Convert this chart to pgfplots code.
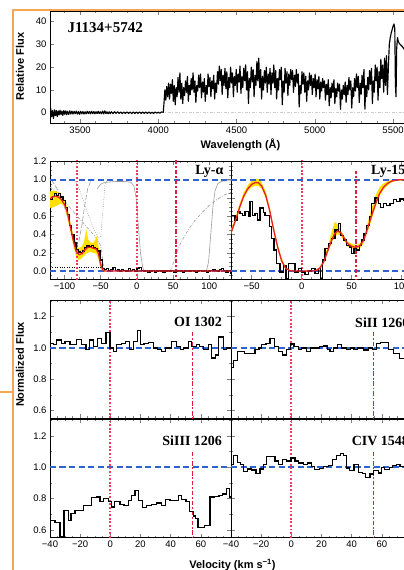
\documentclass[border=0pt]{standalone}
\usepackage{pgfplots}
\pgfplotsset{compat=1.18}
\usepackage{fontspec}
\setmainfont{Liberation Sans}
\newfontfamily\tnr{Liberation Serif}
\definecolor{orng}{HTML}{F6A556}
\definecolor{bdash}{HTML}{2E62D0}
\definecolor{rdot}{HTML}{F03C5C}
\definecolor{rddc}{HTML}{E01E3C}
\definecolor{model}{HTML}{E8202A}
\definecolor{band}{HTML}{FFE000}
\definecolor{gcurve}{HTML}{9C9C9C}
\pgfplotsset{
  base/.style={scale only axis, anchor=south west, clip=true,
    axis line style={line width=0.9pt},
    tick style={line width=0.6pt},
    major tick length=4pt, minor tick length=2pt, tick align=inside,
    tick label style={font=\fontsize{9.5}{10}\selectfont},
    /pgf/number format/assume math mode=true},
  mid/.style={base, width=181pt, height=118.3pt, ymin=-0.09, ymax=1.205,
    ytick={0,0.2,0.4,0.6,0.8,1.0,1.2}, minor ytick={-0.05,0,0.05,...,1.21}},
  vel/.style={base, width=181pt, height=118.3pt, xmin=-40, xmax=80, ymin=0.551, ymax=1.306,
    xtick={-40,-20,0,20,40,60,80}, minor xtick={-40,-35,...,80},
    ytick={0.6,0.8,1.0,1.2}, minor ytick={0.6,0.7,0.8,0.9,1.0,1.1,1.2,1.3}},
  hist/.style={draw=black, line width=1.25pt, const plot, line join=miter},
  bluedash/.style={draw=bdash, line width=2pt, dash pattern=on 6pt off 3.5pt},
  reddot/.style={draw=rdot, line width=1.8pt, dash pattern=on 1.8pt off 1.8pt},
  reddashdot/.style={draw=rddc, line width=1.8pt, dash pattern=on 4.5pt off 1.8pt on 1.8pt off 1.8pt},
}
\begin{document}
\begin{tikzpicture}
\useasboundingbox (0pt,0pt) rectangle (404pt,570pt);
\clip (0pt,0pt) rectangle (404pt,570pt);

% ---------------- top spectrum
\begin{axis}[base, at={(50pt,447pt)}, width=362pt, height=112pt,
  xmin=3308, xmax=5621, ymin=-4.53, ymax=44.7,
  xtick={3500,4000,4500,5000,5500}, xticklabels={3500,4000,4500,5000,5500},
  minor xtick={3400,3500,...,5600},
  ytick={0,10,20,30,40}, yticklabels={0,10,20,30,40}]
\addplot[draw=gray!40, line width=0.8pt, dash pattern=on 3pt off 1.5pt on 1pt off 1.5pt] coordinates {(3300,0) (5700,0)};
\addplot[draw=black, line width=1.15pt, line join=round] coordinates {
(3300,1.8) (3306,-2.8) (3312,2.0) (3318,-1.8) (3324,0.9) (3330,-2.5) (3336,1.2) (3342,-1.3) (3348,1.0) (3354,-1.7)
(3360,0.8) (3366,-1.0) (3372,1.1) (3378,-0.8) (3384,0.7) (3390,-1.2) (3396,0.9) (3402,-0.7) (3408,0.8) (3414,-0.9)
(3420,0.6) (3427,-0.8) (3434,0.8) (3441,-0.6) (3448,0.7) (3455,-0.6) (3462,0.6) (3469,-0.5) (3476,0.7) (3483,-0.6)
(3490,0.5) (3497,-0.7) (3504,0.6) (3511,-0.5) (3518,0.5) (3525,-0.6) (3532,0.4) (3539,-0.5) (3546,0.6) (3553,-0.4)
(3560,0.5) (3567,-0.5) (3574,0.6) (3581,-0.4) (3588,0.5) (3595,-0.5) (3602,0.4) (3609,-0.4) (3616,0.6) (3623,-0.4)
(3630,0.4) (3637,-0.5) (3644,0.7) (3651,-0.5) (3658,0.8) (3665,-0.4) (3672,0.4) (3679,-0.5) (3686,0.4) (3693,-0.4)
(3700,0.4) (3710,-0.4) (3720,0.4) (3730,-0.3) (3740,0.4) (3750,-0.3) (3760,0.3) (3770,-0.4) (3780,0.3) (3790,-0.3)
(3800,0.3) (3810,-0.3) (3820,0.3) (3830,-0.4) (3840,0.3) (3850,-0.3) (3860,0.3) (3870,-0.3) (3880,0.3) (3890,-0.3)
(3900,0.3) (3910,-0.3) (3920,0.3) (3930,-0.3) (3940,0.3) (3950,-0.3) (3960,0.2) (3970,-0.3) (3980,0.3) (3990,-0.2)
(4000,0.2) (4010,-0.2) (4020,0.3) (4032,0.2) (4036,4.0) (4042,10.0) (4048,5.5) (4054,11.5) (4060,7.0) (4066,13.0) (4072,6.0) (4078,12.5) (4084,8.5)
(4090,14.5) (4096,5.0) (4102,12.0) (4108,3.5) (4114,11.0) (4120,7.0) (4126,15.5) (4132,9.0) (4138,17.5) (4144,6.0)
(4150,13.0) (4156,4.0) (4162,11.0) (4168,7.5) (4174,14.0) (4180,9.0) (4186,16.0) (4192,5.0) (4198,12.0) (4204,8.0)
(4210,15.0) (4216,10.0) (4222,17.5) (4228,9.0) (4234,14.0) (4240,4.5) (4246,12.0) (4252,9.5) (4258,16.5) (4264,11.0)
(4270,17.0) (4276,6.5) (4282,13.5) (4288,9.0) (4294,15.0) (4300,5.0) (4306,12.0) (4312,8.0) (4318,17.0) (4324,11.5)
(4330,15.5) (4336,7.0) (4342,14.0) (4348,10.5) (4354,16.5) (4360,6.0) (4366,13.0) (4372,9.0) (4378,18.0) (4384,12.5)
(4390,20.5) (4396,14.0) (4402,19.0) (4408,8.0) (4414,16.5) (4420,12.0) (4426,19.5) (4432,10.5) (4438,18.0) (4444,6.5)
(4450,15.5) (4456,11.0) (4462,20.0) (4468,13.0) (4474,17.5) (4480,7.0) (4486,16.0) (4492,12.0) (4498,19.0) (4504,9.0)
(4510,17.0) (4516,13.5) (4522,20.5) (4528,8.5) (4534,16.0) (4540,11.0) (4546,19.5) (4552,14.0) (4558,21.0) (4564,10.0)
(4570,18.0) (4576,4.0) (4582,15.0) (4588,11.0) (4594,20.0) (4600,13.5) (4606,19.0) (4612,7.0) (4618,16.5) (4624,12.0)
(4630,22.5) (4636,14.0) (4642,24.0) (4648,11.0) (4654,19.0) (4660,6.0) (4666,16.0) (4672,10.0) (4678,18.5) (4684,13.0)
(4690,20.0) (4696,9.0) (4702,17.0) (4708,12.5) (4714,19.5) (4720,8.0) (4726,17.5) (4732,13.0) (4738,21.0) (4744,11.0)
(4750,18.5) (4756,6.0) (4762,15.0) (4768,10.0) (4774,19.0) (4780,14.5) (4786,20.0) (4792,3.5) (4798,14.0) (4804,9.0)
(4810,19.5) (4816,13.0) (4822,18.0) (4828,7.5) (4834,17.0) (4840,12.0) (4846,19.0) (4852,14.5) (4858,18.5) (4864,9.0)
(4870,16.5) (4876,11.5) (4882,19.0) (4888,13.0) (4894,17.0) (4900,2.5) (4906,12.0) (4912,8.5) (4918,18.0) (4924,12.5)
(4930,17.5) (4936,9.0) (4942,16.0) (4948,5.0) (4954,14.0) (4960,10.0) (4966,17.5) (4972,12.0) (4978,16.5) (4984,8.0)
(4990,15.0) (4996,11.0) (5002,17.0) (5008,7.0) (5014,14.5) (5020,10.5) (5026,16.0) (5032,6.0) (5038,13.5) (5044,9.5)
(5050,15.0) (5056,11.0) (5062,14.0) (5068,5.5) (5074,12.5) (5080,8.0) (5086,14.5) (5092,3.0) (5098,11.0) (5104,6.5)
(5110,13.0) (5116,9.0) (5122,14.5) (5128,4.0) (5134,10.5) (5140,7.0) (5146,13.0) (5152,9.5) (5158,12.5) (5164,1.5)
(5170,10.0) (5176,6.0) (5182,12.0) (5188,8.0) (5194,13.5) (5200,4.5) (5206,12.0) (5212,8.0) (5218,15.5) (5224,10.0)
(5230,14.0) (5236,2.0) (5242,11.0) (5248,7.0) (5254,15.0) (5260,9.5) (5266,17.0) (5272,11.0) (5278,16.0) (5284,4.5)
(5290,13.0) (5296,8.0) (5302,16.5) (5308,11.0) (5314,19.0) (5320,1.5) (5326,12.0) (5332,7.0) (5338,15.5) (5344,10.0)
(5350,18.5) (5356,12.5) (5362,19.5) (5368,4.0) (5374,14.0) (5380,9.0) (5386,21.0) (5392,14.0) (5398,20.0) (5404,5.5)
(5410,18.0) (5416,11.0) (5422,23.5) (5428,15.0) (5434,21.0) (5440,9.0) (5446,24.0) (5452,12.0) (5458,25.0) (5464,8.0)
(5470,20.0) (5476,30.0) (5482,33.0) (5488,35.0) (5494,36.5) (5500,38.0) (5506,39.0) (5511,37.0) (5515,12.0) (5519,7.0)
(5523,28.0) (5528,33.0) (5535,31.0) (5545,30.0) (5560,29.0) (5580,27.0) (5600,26.0) (5620,25.0)};
\end{axis}

% ---------------- Ly-alpha
\begin{axis}[mid, at={(50pt,290.7pt)}, xmin=-120, xmax=130,
  xtick={-100,-50,0,50,100}, xticklabels={−100,−50,0,50,100},
  minor xtick={-120,-110,...,130},
  yticklabels={0.0,0.2,0.4,0.6,0.8,1.0,1.2}]
\addplot[draw=gcurve, line width=0.6pt, dash pattern=on 5pt off 2pt] coordinates {(-118,1.0) (-110,0.9) (-100,0.7) (-92,0.5) (-86,0.34) (-83,0.27) (-80,0.33) (-76,0.5) (-72,0.72) (-68,0.9) (-64,0.98) (-58,1.0)};
\addplot[draw=gcurve, line width=0.6pt, dash pattern=on 0.8pt off 1.5pt] coordinates {(-88,1.0) (-82,0.95) (-76,0.82) (-70,0.68) (-64,0.55) (-58,0.44) (-53,0.36) (-50,0.38) (-47,0.65) (-44,0.95) (-41,1.0)};
\addplot[draw=gcurve, line width=0.6pt, dash pattern=on 3pt off 1.5pt on 0.8pt off 1.5pt] coordinates {(-120,0.92) (-110,0.86) (-100,0.77) (-90,0.67) (-80,0.58) (-70,0.49) (-60,0.4) (-55,0.35) (-50,0.28) (-47,0.1) (-45,0)};
\addplot[draw=gcurve, line width=0.6pt, dash pattern=on 3pt off 1.5pt on 0.8pt off 1.5pt] coordinates {(46,0) (50,0.08) (55,0.2) (60,0.3) (70,0.44) (80,0.55) (90,0.64) (100,0.72) (110,0.78) (120,0.83) (130,0.86)};
\addplot[draw=gcurve, line width=0.6pt] coordinates {(-55,0.9) (-50,0.95) (-45,0.97) (-30,0.98) (-15,0.98) (-8,0.97) (-4,0.93) (-1,0.8) (2,0.5) (5,0.2) (8,0.04) (10,0) (96,0) (99,0.1) (102,0.4) (105,0.7) (108,0.88) (112,0.96) (118,0.985) (130,0.99)};
\addplot[fill=band, draw=none] coordinates {(-121,0.87) (-115,0.88) (-110,0.87) (-105,0.84) (-100,0.78) (-96,0.69) (-92,0.54) (-88,0.40) (-84,0.29) (-80,0.25) (-76,0.27) (-73,0.32) (-70,0.46) (-67,0.34) (-63,0.31) (-60,0.31) (-57,0.35) (-55,0.39) (-53,0.27) (-50,0.12) (-47,0.04) (-44,0.015)
 (-44,-0.01) (-47,-0.005) (-50,0.03) (-53,0.13) (-56,0.19) (-60,0.2) (-65,0.21) (-70,0.19) (-75,0.15) (-80,0.12) (-84,0.16) (-88,0.29) (-92,0.44) (-96,0.59) (-100,0.71) (-105,0.74) (-110,0.72) (-115,0.7) (-121,0.69)} -- cycle;
\addplot[draw=black, line width=0.9pt, dash pattern=on 0.9pt off 1.5pt] coordinates {(-120,0.037) (-50,0.037)};
\addplot[bluedash] coordinates {(-120,1) (130,1)};
\addplot[bluedash] coordinates {(-120,0) (130,0)};
\addplot[reddot] coordinates {(-83,-1) (-83,2)};
\addplot[reddot] coordinates {(0,-1) (0,2)};
\addplot[reddashdot] coordinates {(54,-1) (54,2)};
\addplot[hist] coordinates {(-120,0.78) (-117,0.82) (-114,0.85) (-111,0.83) (-108,0.85) (-105,0.81) (-102,0.77) (-99,0.70) (-96,0.62) (-93,0.50) (-90,0.40) (-87,0.31) (-84,0.24) (-81,0.21) (-78,0.20) (-75,0.22) (-72,0.26) (-69,0.28) (-66,0.27) (-63,0.28) (-60,0.26) (-57,0.25) (-54,0.22) (-51,0.12) (-48,0.03) (-45,0.02) (-42,0.03) (-39,0.01) (-36,0.02) (-33,0.04) (-30,0.01) (-27,0.02) (-24,0.0) (-21,0.02) (-18,0.01) (-15,0.0) (-12,0.03) (-9,0.01) (-6,0.02) (-3,0.0) (0,0.03) (3,0.04) (6,0.01) (9,0.0) (12,0.01) (15,-0.01) (18,0.0) (21,0.01) (24,-0.01) (27,0.0) (30,0.01) (33,0.0) (36,-0.01) (39,0.0) (42,0.01) (45,0.0) (48,0.01) (51,-0.01) (54,0.0) (57,0.01) (60,0.0) (63,-0.01) (66,0.0) (69,0.01) (72,0.0) (75,0.01) (78,0.0) (81,-0.01) (84,0.0) (87,0.01) (90,0.0) (93,0.01) (96,-0.01) (99,0.0) (102,0.01) (105,0.02) (108,0.01) (111,0.0) (114,0.02) (117,0.03) (120,0.01) (123,-0.01) (126,0.01) (129,-0.02) (131,-0.02)};
\addplot[draw=model, line width=1.3pt] coordinates {(-120,0.79) (-117,0.81) (-113,0.82) (-108,0.81) (-104,0.78) (-100,0.73) (-96,0.64) (-92,0.49) (-88,0.34) (-84,0.22) (-80,0.18) (-76,0.19) (-72,0.23) (-68,0.26) (-64,0.26) (-60,0.25) (-56,0.24) (-53,0.19) (-50,0.07) (-47,0.01) (-44,0.0) (130,0.0)};
\end{axis}

% ---------------- Ly-15
\begin{axis}[mid, at={(231pt,290.7pt)}, xmin=-70.7, xmax=110.3,
  xtick={-50,0,50,100}, xticklabels={−50,0,50,100},
  minor xtick={-70,-60,...,110}, yticklabels={}]
\addplot[fill=band, draw=none] coordinates {(-71,0.45) (-66,0.59) (-62,0.74) (-58,0.86) (-54,0.94) (-50,0.99) (-46,1.01) (-43,1.005) (-40,0.97) (-36,0.87) (-32,0.70) (-28,0.48) (-24,0.29) (-20,0.14) (-16,0.045) (-12,0.012) (-8,0.006) (10,0.006) (14,0.012) (18,0.045) (22,0.13) (26,0.27) (30,0.43) (33,0.54) (36,0.51) (39,0.45) (42,0.39) (46,0.32) (50,0.3) (54,0.285) (58,0.3) (62,0.37) (66,0.53) (70,0.69) (74,0.83) (78,0.92) (82,0.96) (86,0.985) (90,0.997) (95,1.004) (112,1.004)
 (112,0.996) (95,0.988) (90,0.972) (86,0.94) (82,0.895) (78,0.825) (74,0.71) (70,0.57) (66,0.43) (62,0.305) (58,0.25) (54,0.24) (50,0.25) (46,0.265) (42,0.335) (39,0.385) (36,0.405) (33,0.375) (30,0.315) (26,0.195) (22,0.085) (18,0.018) (14,-0.002) (10,-0.006) (-8,-0.006) (-12,-0.002) (-16,0.018) (-20,0.09) (-24,0.235) (-28,0.425) (-32,0.635) (-36,0.8) (-40,0.9) (-43,0.93) (-46,0.935) (-50,0.92) (-54,0.875) (-58,0.795) (-62,0.675) (-66,0.535) (-71,0.39)} -- cycle;
\addplot[bluedash] coordinates {(-71,1) (111,1)};
\addplot[bluedash] coordinates {(-71,0) (111,0)};
\addplot[reddot] coordinates {(0,-1) (0,2)};
\addplot[reddashdot] coordinates {(54,-1) (54,1.09)};
\addplot[hist] coordinates {(-71,0.61) (-66.7,0.56) (-64.3,0.65) (-61.7,0.63) (-59,0.61) (-56.7,0.65) (-53.3,0.6) (-51.7,0.76) (-49.3,0.61) (-46.7,0.63) (-44.3,0.56) (-41.7,0.69) (-38.3,0.64) (-36.7,0.61) (-35,0.61) (-32.3,0.49) (-30,0.36) (-27.7,0.23) (-25,0.08) (-21.7,-0.01) (-18.3,0.06) (-15.7,-0.085) (-13.3,0.08) (-9,0.08) (-6.7,-0.01) (-3.3,0.03) (0,-0.01) (3.3,-0.04) (6.7,0.0) (10,0.03) (13.3,-0.03) (16.7,0.03) (19,-0.085) (21,0.12) (23.3,0.25) (26.7,0.3) (30,0.36) (33.3,0.45) (36.7,0.52) (39,0.39) (41.7,0.34) (45,0.28) (48.3,0.26) (50,0.19) (52.3,0.25) (55,0.23) (57.7,0.28) (60,0.34) (62.3,0.41) (65,0.5) (67.7,0.6) (70,0.74) (73.3,0.8) (76.7,0.74) (79,0.7) (81.7,0.74) (85,0.72) (88.3,0.74) (91.7,0.78) (95,0.76) (98.3,0.79) (102,0.77) (106,0.8) (111,0.8)};
\addplot[draw=model, line width=1.3pt] coordinates {(-71,0.41) (-66,0.56) (-62,0.70) (-58,0.82) (-54,0.90) (-50,0.95) (-46,0.97) (-43,0.965) (-40,0.93) (-36,0.83) (-32,0.66) (-28,0.45) (-24,0.26) (-20,0.11) (-16,0.03) (-12,0.005) (-8,0) (10,0) (14,0.005) (18,0.03) (22,0.10) (26,0.22) (30,0.34) (33,0.41) (36,0.44) (39,0.42) (42,0.37) (46,0.3) (50,0.27) (54,0.26) (58,0.275) (62,0.34) (66,0.47) (70,0.61) (74,0.74) (78,0.85) (82,0.92) (86,0.96) (90,0.985) (95,0.997) (100,1.0) (111,1.0)};
\end{axis}

% ---------------- OI 1302
\begin{axis}[vel, at={(50pt,151.7pt)}, xticklabels={}, yticklabels={0.6,0.8,1.0,1.2}]
\addplot[bluedash] coordinates {(-40,1) (80,1)};
\addplot[reddot] coordinates {(0,0) (0,2)};
\addplot[reddashdot] coordinates {(54.5,0) (54.5,1.1)};
\addplot[hist] coordinates {(-40,1.03) (-37.8,1.02) (-35.6,1.05) (-32.3,1.03) (-30.1,1.04) (-26.8,1.02) (-22.3,1.055) (-19.0,1.02) (-16.2,0.99) (-14.0,1.05) (-11.3,1.01) (-8.4,1.06) (-5.8,1.03) (-2.9,1.10) (-0.3,1.0) (1.9,0.975) (4.2,1.02) (7.5,1.03) (10.3,1.04) (12.5,0.99) (15.2,1.04) (17.8,1.11) (20.0,1.02) (22.3,1.03) (25.3,1.035) (28.4,1.0) (31.1,0.99) (34.0,0.975) (36.8,1.0) (40.6,1.04) (43.9,1.01) (46.5,0.99) (48.7,1.0) (51.6,1.04) (53.8,1.01) (57.1,1.02) (59.3,1.01) (62.0,0.99) (64.9,1.02) (67.1,0.935) (69.9,0.955) (71.9,1.07) (74.8,0.99) (77.0,1.0) (80,1.0)};
\end{axis}

% ---------------- SiII 1260
\begin{axis}[vel, at={(231pt,151.7pt)}, xticklabels={}, yticklabels={}]
\addplot[bluedash] coordinates {(-40,1) (80,1)};
\addplot[reddot] coordinates {(0,0) (0,2)};
\addplot[reddashdot] coordinates {(54.5,0) (54.5,1.1)};
\addplot[hist] coordinates {(-40,0.877) (-38.5,0.92) (-35.8,0.975) (-31,0.965) (-24.1,0.99) (-21.5,1.0) (-19.7,1.02) (-16.8,1.03) (-14.2,1.06) (-11.3,1.01) (-8.7,0.977) (-5.8,0.955) (-3.1,0.99) (-0.5,1.025) (1.7,1.01) (4.6,0.99) (6.8,1.0) (10.1,0.977) (12.8,1.0) (15.6,1.0) (18.5,1.01) (21.1,1.013) (23.8,0.99) (25.6,0.977) (27.8,1.0) (30.4,1.02) (33.3,1.0) (36.6,0.99) (39.2,1.0) (41.5,0.99) (43.7,1.0) (47.6,0.987) (51.0,1.0) (53.8,0.99) (56.5,1.03) (59.3,1.036) (64.2,0.99) (67.5,0.966) (71.9,0.934) (80,0.934)};
\end{axis}

% ---------------- SiIII 1206
\begin{axis}[vel, at={(50pt,32.3pt)}, xticklabels={−40,−20,0,20,40,60,}, yticklabels={0.6,0.8,1.0,1.2}]
\addplot[bluedash] coordinates {(-40,1) (80,1)};
\addplot[reddot] coordinates {(0,0) (0,2)};
\addplot[reddashdot] coordinates {(54.5,0) (54.5,1.1)};
\addplot[hist] coordinates {(-40,0.66) (-36.7,0.65) (-33.4,0.56) (-30.7,0.726) (-27.9,0.66) (-26.1,0.705) (-23.4,0.726) (-17.9,0.758) (-12.4,0.806) (-9.1,0.81) (-6.9,0.78) (-4.7,0.8) (-1.4,0.78) (0.8,0.747) (3.0,0.78) (6.4,0.764) (9.0,0.758) (11.9,0.79) (14.1,0.82) (16.3,0.853) (18.5,0.79) (21.4,0.743) (24.0,0.758) (27.3,0.764) (30.6,0.773) (34.0,0.758) (36.6,0.794) (39.5,0.79) (45.0,0.82) (47.2,0.794) (50.1,0.78) (52.7,0.716) (54.9,0.69) (56.7,0.674) (58.2,0.617) (62.6,0.63) (66.0,0.81) (69.3,0.815) (72.1,0.82) (74.3,0.83) (76.9,0.863) (78.8,0.81) (80,0.81)};
\end{axis}

% ---------------- CIV 1548
\begin{axis}[vel, at={(231pt,32.3pt)}, xticklabels={−40,−20,0,20,40,60,80}, yticklabels={}]
\addplot[bluedash] coordinates {(-40,1) (80,1)};
\addplot[reddot] coordinates {(0,0) (0,2)};
\addplot[reddashdot] coordinates {(54.5,0) (54.5,1.1)};
\addplot[hist] coordinates {(-40,1.02) (-38.5,1.074) (-35.8,1.03) (-33.6,1.02) (-31.8,0.975) (-29.2,0.99) (-26.3,0.983) (-23.4,0.96) (-20.8,0.99) (-18.6,1.02) (-16.4,1.067) (-10.9,1.04) (-8.7,1.02) (-5.8,1.05) (-3.1,1.04) (-0.3,1.06) (2.4,1.04) (4.6,1.027) (7.9,1.02) (10.6,1.027) (13.4,1.004) (15.6,0.985) (18.5,0.994) (21.1,1.004) (24.5,1.01) (27.3,1.05) (30.0,1.074) (32.6,1.088) (34.4,1.074) (36.6,0.996) (38.8,0.98) (41.5,1.02) (44.3,0.968) (47.2,0.96) (49.4,0.937) (52.1,0.958) (54.7,0.98) (57.6,0.964) (59.8,1.0) (62.0,0.985) (64.9,1.0) (67.1,1.01) (69.7,1.02) (72.0,1.004) (80,1.004)};
\end{axis}

% ---------------- labels
\node[anchor=west, font=\tnr\bfseries\fontsize{15}{16}\selectfont] at (64pt,542pt) {J1134+5742};
\node[anchor=east, font=\tnr\bfseries\fontsize{14}{15}\selectfont] at (227pt,398.3pt) {Ly-α};
\node[anchor=west, font=\tnr\bfseries\fontsize{14}{15}\selectfont] at (367.7pt,398.3pt) {Ly-15};
\node[anchor=east, font=\tnr\bfseries\fontsize{14}{15}\selectfont] at (225.5pt,247.7pt) {OI 1302};
\node[anchor=west, font=\tnr\bfseries\fontsize{14}{15}\selectfont] at (351.7pt,247.7pt) {SiII 1260};
\node[anchor=east, font=\tnr\bfseries\fontsize{14}{15}\selectfont] at (225.5pt,129pt) {SiIII 1206};
\node[anchor=west, font=\tnr\bfseries\fontsize{14}{15}\selectfont] at (348.3pt,129pt) {CIV 1548};
\node[rotate=90, font=\bfseries\fontsize{11}{12}\selectfont] at (20pt,503.3pt) {Relative Flux};
\node[font=\bfseries\fontsize{11}{12}\selectfont] at (240.5pt,425.5pt) {Wavelength (Å)};
\node[rotate=90, font=\bfseries\fontsize{11}{12}\selectfont] at (20pt,205.5pt) {Normalized Flux};
\node[font=\bfseries\fontsize{11}{12}\selectfont] at (232.5pt,5pt) {Velocity (km s\textsuperscript{−1})};
\draw[orng, line width=2pt] (13.3pt,-2pt) -- (13.3pt,560pt) -- (406pt,560pt);
\draw[orng, line width=2pt] (-2pt,177.7pt) -- (13.3pt,177.7pt);
\end{tikzpicture}
\end{document}
